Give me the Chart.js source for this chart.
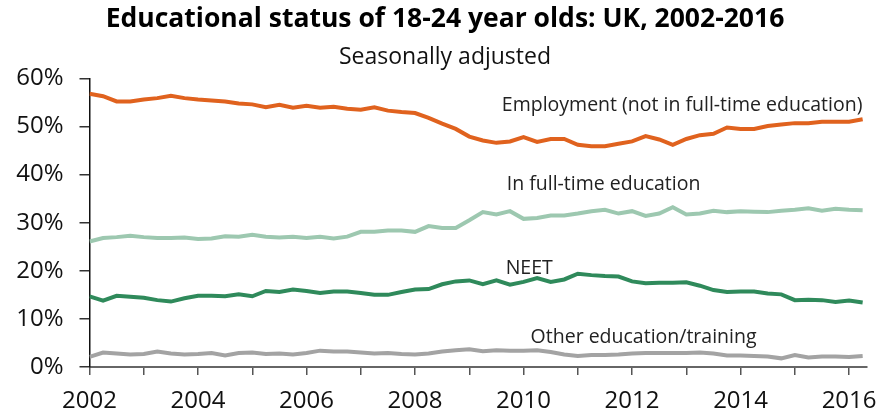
<!DOCTYPE html>
<html>
<head>
<meta charset="utf-8">
<script src="https://cdn.jsdelivr.net/npm/chart.js@4"></script>
<style>
  html, body { margin: 0; padding: 0; background: #fff; }
  #wrap { width: 881px; height: 411px; }
</style>
</head>
<body>
<div id="wrap"><canvas id="eduChart"></canvas></div>
<script>
// Quarterly figures, 2002 Q1 to 2016 Q2 (% of 18-24 year olds)
const quarters = [];
for (let yr = 2002; yr <= 2016; yr++) {
  for (let q = 0; q < 4; q++) {
    if (yr === 2016 && q > 1) break;
    quarters.push(yr + q / 4);
  }
}

const employment = [
  56.8, 56.3, 55.2, 55.2, 55.6, 55.9, 56.4, 55.9, 55.6, 55.4, 55.2, 54.8, 54.6, 54.0, 54.5, 53.9, 54.3, 53.9, 54.1, 53.7,
  53.5, 54.0, 53.3, 53.0, 52.8, 51.8, 50.6, 49.5, 47.9, 47.1, 46.6, 46.9, 47.8, 46.8, 47.4, 47.4, 46.2, 45.9, 45.9,
  46.4, 46.9, 48.0, 47.3, 46.2, 47.4, 48.2, 48.5, 49.8, 49.5, 49.5, 50.1, 50.4, 50.7, 50.7, 51.0, 51.0, 51.0, 51.5
];
const fullTimeEdu = [
  26.1, 26.8, 27.0, 27.3, 27.0, 26.8, 26.8, 26.9, 26.6, 26.7, 27.2, 27.1, 27.5, 27.1, 26.9, 27.1, 26.8, 27.1, 26.7, 27.1,
  28.1, 28.1, 28.4, 28.4, 28.1, 29.3, 28.9, 28.9, 30.5, 32.2, 31.7, 32.4, 30.8, 31.0, 31.5, 31.5, 31.9, 32.4, 32.7,
  31.9, 32.4, 31.4, 31.9, 33.2, 31.7, 31.9, 32.5, 32.2, 32.4, 32.3, 32.2, 32.5, 32.7, 33.0, 32.5, 32.9, 32.7, 32.6
];
const neet = [
  14.7, 13.8, 14.8, 14.6, 14.4, 13.9, 13.6, 14.3, 14.8, 14.8, 14.7, 15.1, 14.7, 15.8, 15.6, 16.1, 15.8, 15.4, 15.7, 15.7,
  15.4, 15.0, 15.0, 15.6, 16.1, 16.2, 17.2, 17.8, 18.0, 17.2, 18.0, 17.1, 17.7, 18.5, 17.7, 18.2, 19.4, 19.1, 18.9,
  18.8, 17.8, 17.4, 17.5, 17.5, 17.6, 16.9, 16.0, 15.6, 15.7, 15.7, 15.3, 15.1, 13.9, 14.0, 13.9, 13.5, 13.8, 13.4
];
const otherEdu = [
  2.1, 3.0, 2.8, 2.6, 2.7, 3.2, 2.8, 2.6, 2.7, 2.9, 2.4, 2.9, 3.0, 2.7, 2.8, 2.6, 2.9, 3.4, 3.2, 3.2,
  3.0, 2.8, 2.9, 2.7, 2.6, 2.8, 3.2, 3.5, 3.7, 3.3, 3.5, 3.4, 3.4, 3.5, 3.1, 2.6, 2.3, 2.5, 2.5,
  2.6, 2.8, 2.9, 2.9, 2.9, 2.9, 3.0, 2.8, 2.4, 2.4, 2.3, 2.2, 1.8, 2.5, 2.0, 2.2, 2.2, 2.1, 2.3
];

const seriesNames = ['Employment (not in full-time education)', 'In full-time education', 'NEET', 'Other education/training'];
const seriesColors = ['#e0621e', '#9dc8b0', '#2f8a5b', '#a3a3a3'];
// where each series name sits: [year, percent] at the text baseline
const nameSpots = [[2009.6, 53.3], [2009.69, 36.7], [2009.67, 19.3], [2010.13, 5.0]];

const FONT = "'Open Sans', 'Noto Sans', sans-serif";

const toPoints = vals => vals.map((v, i) => ({ x: quarters[i], y: v }));

const seriesLabels = {
  id: 'seriesLabels',
  afterDatasetsDraw(chart) {
    const { ctx, scales: { x, y } } = chart;
    ctx.save();
    ctx.font = '19.5px ' + FONT;
    ctx.fillStyle = '#222';
    ctx.textBaseline = 'alphabetic';
    ctx.textAlign = 'left';
    seriesNames.forEach((name, i) => {
      ctx.fillText(name, x.getPixelForValue(nameSpots[i][0]), y.getPixelForValue(nameSpots[i][1]));
    });
    ctx.restore();
  }
};

const data = {
  datasets: [employment, fullTimeEdu, neet, otherEdu].map((vals, i) => ({
    label: seriesNames[i],
    data: toPoints(vals),
    borderColor: seriesColors[i],
    backgroundColor: seriesColors[i],
    borderWidth: 4,
    pointRadius: 0,
    tension: 0,
    fill: false
  }))
};

const config = {
  type: 'line',
  data: data,
  options: {
    responsive: true,
    maintainAspectRatio: false,
    animation: false,
    layout: { padding: { left: 9, right: 0, top: 0, bottom: 0 } },
    plugins: {
      legend: { display: false },
      tooltip: { enabled: false },
      title: {
        display: true,
        text: 'Educational status of 18-24 year olds: UK, 2002-2016',
        color: '#000',
        font: { family: FONT, size: 26.5, weight: 'bold' },
        padding: { top: 4, bottom: 2 }
      },
      subtitle: {
        display: true,
        text: 'Seasonally adjusted',
        color: '#111',
        font: { family: FONT, size: 23 },
        padding: { top: 6, bottom: 7 }
      }
    },
    scales: {
      x: {
        type: 'linear',
        min: 2002,
        max: 2016.33,
        afterFit: scale => {
          scale.height = 44;
          scale.paddingRight = 14;
        },
        grid: { display: true, drawOnChartArea: false, drawTicks: true, tickLength: 8, color: '#555', lineWidth: 1.5 },
        border: { display: true, color: '#666', width: 2 },
        ticks: {
          stepSize: 1,
          includeBounds: false,
          autoSkip: false,
          maxRotation: 0,
          padding: 12,
          color: '#111',
          font: { family: FONT, size: 24 },
          callback: v => (v % 2 === 0 ? String(v) : '')
        }
      },
      y: {
        min: 0,
        max: 60,
        afterFit: scale => { scale.width = 80.5; },
        grid: { display: true, drawOnChartArea: false, drawTicks: true, tickLength: 10, color: '#333', lineWidth: 1.5 },
        border: { display: true, color: '#111', width: 1.5 },
        ticks: {
          stepSize: 10,
          padding: 16,
          color: '#111',
          font: { family: FONT, size: 24 },
          callback: v => v + '%'
        }
      }
    }
  },
  plugins: [seriesLabels]
};

const eduChart = new Chart(document.getElementById('eduChart'), config);
</script>
</body>
</html>
